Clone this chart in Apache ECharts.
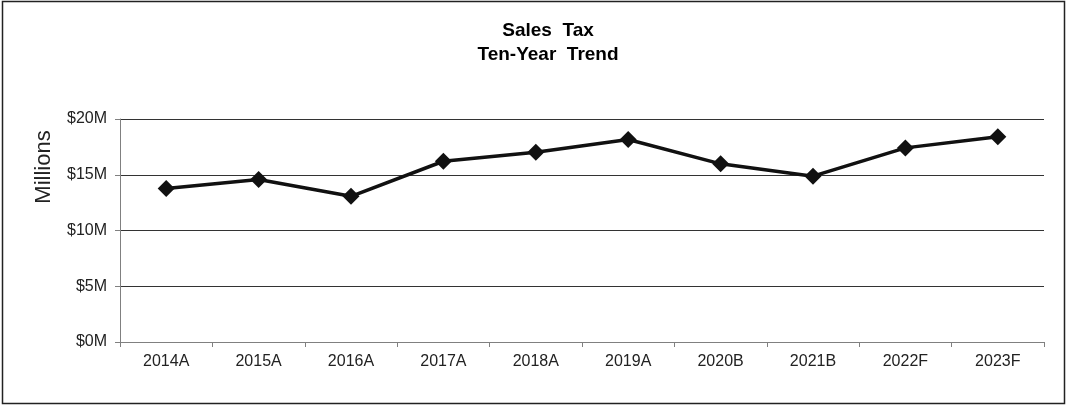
<!DOCTYPE html>
<html><head><meta charset="utf-8">
<script src="https://cdn.jsdelivr.net/npm/echarts@6/dist/echarts.min.js"></script>
<style>html,body{margin:0;padding:0;background:#fff}#c{width:1067px;height:406px}</style>
</head><body><div id="c"></div>
<script>
const categories = ['2014A','2015A','2016A','2017A','2018A','2019A','2020B','2021B','2022F','2023F'];
const salesTax = [13.76, 14.57, 13.07, 16.21, 17.02, 18.16, 15.98, 14.87, 17.41, 18.40];
const yTicks = [0, 5, 10, 15, 20];

const chart = echarts.init(document.getElementById('c'), null, {renderer:'canvas'});
const font = '"Liberation Sans", Arial, sans-serif';
chart.setOption({
  animation: false,
  backgroundColor: '#fff',
  graphic: [
    {type:'rect', shape:{x:2.5,y:1.5,width:1062,height:402}, style:{fill:'none', stroke:'#222', lineWidth:1.5}, silent:true},
    {type:'text', x:44, y:167, rotation: Math.PI/2, silent:true,
     style:{text:'Millions', fontFamily: font, fontSize: 22, fill:'#222', align:'center', verticalAlign:'middle'}}
  ],
  title: {
    text: 'Sales  Tax\nTen-Year  Trend', left: 543, top: 14, textAlign: 'center',
    textStyle: {fontFamily: font, fontSize: 19, fontWeight: 'bold', color: '#000', lineHeight: 24}
  },
  grid: {left: 120, right: 23, top: 119, height: 223, containLabel: false},
  xAxis: {
    type: 'category', data: categories, boundaryGap: true,
    axisLine: {lineStyle: {color: '#808080', width: 1}},
    axisTick: {show: true, length: 5, lineStyle: {color: '#808080'}},
    axisLabel: {fontFamily: font, fontSize: 16, color: '#222', margin: 12}
  },
  yAxis: {
    type: 'value', min: yTicks[0], max: yTicks[yTicks.length-1], interval: 5,
    axisLine: {show: true, lineStyle: {color: '#808080'}},
    axisTick: {show: true, length: 5, lineStyle: {color: '#808080'}},
    axisLabel: {fontFamily: font, fontSize: 16, color: '#222', margin: 13, formatter: v => '$' + v + 'M'},
    splitLine: {lineStyle: {color: '#333', width: 1}}
  },
  series: [{
    type: 'line', data: salesTax, symbol: 'diamond', symbolSize: 17,
    lineStyle: {color: '#111', width: 3.5},
    itemStyle: {color: '#111'}
  }]
});
</script></body></html>
